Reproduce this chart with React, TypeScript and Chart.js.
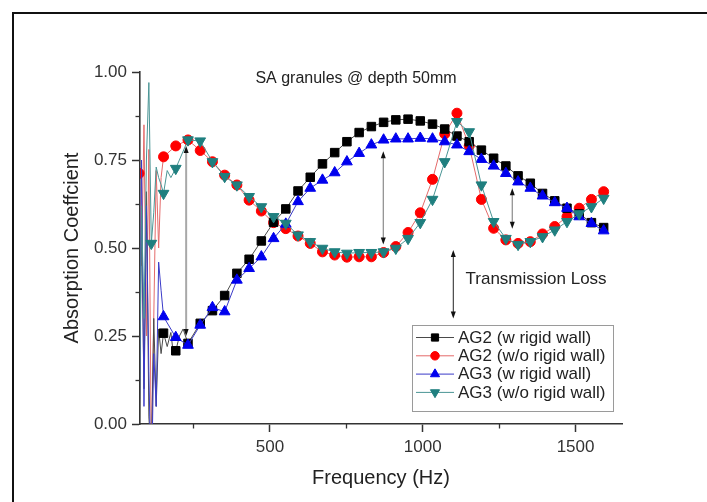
import React, { useEffect, useRef } from "react";
import { Chart, registerables } from "chart.js";

Chart.register(...registerables);

// Frequencies (Hz) at which the measurement markers are plotted
const frequencies = [72, 112, 152, 192, 232, 272, 312, 352, 392, 432, 472, 512, 552, 592, 632, 672, 712, 752, 792, 832, 872, 912, 952, 992, 1032, 1072, 1112, 1152, 1192, 1232, 1272, 1312, 1352, 1392, 1432, 1472, 1512, 1552, 1592];

const ag2WithWall = [-0.15, -0.1, 0.258, 0.208, 0.229, 0.286, 0.322, 0.365, 0.428, 0.468, 0.52, 0.573, 0.611, 0.662, 0.701, 0.739, 0.771, 0.802, 0.828, 0.845, 0.857, 0.864, 0.866, 0.861, 0.852, 0.838, 0.818, 0.802, 0.778, 0.755, 0.733, 0.705, 0.684, 0.655, 0.634, 0.613, 0.597, 0.572, 0.558];
const ag2WithoutWall = [0.712, -0.1, 0.759, 0.79, 0.807, 0.777, 0.745, 0.707, 0.679, 0.636, 0.605, 0.572, 0.555, 0.534, 0.513, 0.489, 0.48, 0.474, 0.475, 0.475, 0.487, 0.504, 0.544, 0.6, 0.695, 0.824, 0.883, 0.79, 0.638, 0.556, 0.523, 0.513, 0.518, 0.54, 0.561, 0.589, 0.613, 0.638, 0.66];
const ag3WithWall = [-0.1, -0.2, 0.305, 0.246, 0.224, 0.281, 0.331, 0.319, 0.409, 0.442, 0.475, 0.527, 0.568, 0.632, 0.67, 0.693, 0.714, 0.745, 0.769, 0.793, 0.807, 0.81, 0.81, 0.812, 0.81, 0.802, 0.793, 0.774, 0.752, 0.733, 0.712, 0.688, 0.67, 0.648, 0.629, 0.613, 0.589, 0.57, 0.549];
const ag3WithoutWall = [-0.05, 0.513, 0.655, 0.726, 0.807, 0.804, 0.745, 0.703, 0.679, 0.646, 0.617, 0.589, 0.57, 0.537, 0.518, 0.499, 0.489, 0.485, 0.487, 0.487, 0.489, 0.499, 0.527, 0.572, 0.638, 0.745, 0.859, 0.83, 0.679, 0.575, 0.527, 0.51, 0.518, 0.532, 0.551, 0.575, 0.597, 0.617, 0.641];

// Extra (unmarked) low-frequency trace samples: [frequency, value]
const ag2WithWallLow = [[80, 0.6], [88, 0.1], [96, 0.66], [104, 0.02], [120, 0.3], [128, 0.05], [136, 0.27], [144, 0.2], [164, 0.22], [176, 0.26], [184, 0.2], [204, 0.25], [216, 0.27]];
const ag2WithoutWallLow = [[80, 0.45], [88, 0.85], [96, 0.25], [104, 0.78], [120, 0.3], [128, 0.72], [136, 0.5], [144, 0.7]];
const ag3WithWallLow = [[80, 0.75], [88, 0.05], [96, 0.62], [104, 0.15], [120, 0.2], [128, 0.05], [136, 0.46], [144, 0.38]];
const ag3WithoutWallLow = [[80, 0.62], [88, 0.3], [96, 0.75], [104, 0.97], [120, 0.6], [128, 0.73], [136, 0.7], [144, 0.68], [164, 0.72], [176, 0.7]];

const seriesLabels = ["AG2 (w rigid wall)", "AG2 (w/o rigid wall)", "AG3 (w rigid wall)", "AG3 (w/o rigid wall)"];

const chartTitle = "SA granules @ depth 50mm";
const xAxisTitle = "Frequency (Hz)";
const yAxisTitle = "Absorption Coeffcient";
const annotationText = "Transmission Loss";

// Double-headed arrows between curves: frequency, upper value, lower value
const arrowFreqs = [226, 871, 1293];
const arrowTops = [0.79, 0.775, 0.67];
const arrowBottoms = [0.25, 0.51, 0.555];
// Transmission-loss key arrow
const tlArrowFreq = [1100];
const tlArrowTop = [0.494];
const tlArrowBottom = [0.3];
const tlTextFreq = [1140];
const tlTextValue = [0.41];

const xMajorStep = 500;
const yMajorStep = 0.25;

type Pt = { x: number; y: number; m: boolean };

function buildPoints(values: number[], extras: number[][]): Pt[] {
  const pts: Pt[] = frequencies.map((f, i) => ({ x: f, y: values[i], m: true }));
  extras.forEach(([f, v]) => pts.push({ x: f, y: v, m: false }));
  pts.sort((a, b) => a.x - b.x);
  return pts;
}

const FONT = 'Arial, "Liberation Sans", sans-serif';

const styles = [
  { fill: "#000000", line: "#4a4a4a", shape: "rect", r: 6, rot: 0, order: 2 },
  { fill: "#ff0000", line: "#e46a6a", shape: "circle", r: 5, rot: 0, order: 3 },
  { fill: "#0000ee", line: "#3a3ac8", shape: "triangle", r: 6.2, rot: 0, order: 1 },
  { fill: "#1f7f7f", line: "#4a9595", shape: "triangle", r: 6.2, rot: 180, order: 0 },
];

function drawMarker(ctx: CanvasRenderingContext2D, shape: string, x: number, y: number, r: number, rot: number, color: string) {
  ctx.save();
  ctx.fillStyle = color;
  ctx.strokeStyle = color;
  ctx.lineWidth = 1;
  ctx.beginPath();
  if (shape === "rect") {
    const s = Math.SQRT1_2 * r;
    ctx.rect(x - s, y - s, 2 * s, 2 * s);
  } else if (shape === "circle") {
    ctx.arc(x, y, r, 0, Math.PI * 2);
  } else {
    let rad = (rot * Math.PI) / 180;
    ctx.moveTo(x + Math.sin(rad) * r, y - Math.cos(rad) * r);
    rad += (2 * Math.PI) / 3;
    ctx.lineTo(x + Math.sin(rad) * r, y - Math.cos(rad) * r);
    rad += (2 * Math.PI) / 3;
    ctx.lineTo(x + Math.sin(rad) * r, y - Math.cos(rad) * r);
    ctx.closePath();
  }
  ctx.fill();
  ctx.stroke();
  ctx.restore();
}

function arrowHead(ctx: CanvasRenderingContext2D, x: number, y: number, dir: number) {
  ctx.beginPath();
  ctx.moveTo(x, y);
  ctx.lineTo(x - 2.5, y - dir * 7);
  ctx.lineTo(x + 2.5, y - dir * 7);
  ctx.closePath();
  ctx.fill();
}

function isMultiple(v: number, step: number) {
  const q = v / step;
  return Math.abs(q - Math.round(q)) < 1e-6;
}

const overlayPlugin = {
  id: "overlay",
  beforeDraw(chart: any) {
    const ctx = chart.ctx as CanvasRenderingContext2D;
    ctx.save();
    ctx.fillStyle = "#111";
    ctx.fillRect(12, 12, chart.width, 2);
    ctx.fillRect(12, 12, 2, chart.height);
    ctx.restore();
  },
  afterDraw(chart: any) {
    const ctx = chart.ctx as CanvasRenderingContext2D;
    const xs = chart.scales.x;
    const ys = chart.scales.y;
    const area = chart.chartArea;
    ctx.save();

    // minor ticks
    ctx.strokeStyle = "#333";
    ctx.lineWidth = 1.3;
    xs.ticks.forEach((t: any) => {
      if (!isMultiple(t.value, xMajorStep)) {
        const px = Math.round(xs.getPixelForValue(t.value)) + 0.5;
        ctx.beginPath();
        ctx.moveTo(px, area.bottom);
        ctx.lineTo(px, area.bottom + 4.5);
        ctx.stroke();
      }
    });
    ys.ticks.forEach((t: any) => {
      if (!isMultiple(t.value, yMajorStep)) {
        const py = Math.round(ys.getPixelForValue(t.value)) + 0.5;
        ctx.beginPath();
        ctx.moveTo(area.left, py);
        ctx.lineTo(area.left - 4.5, py);
        ctx.stroke();
      }
    });

    // title inside plot
    ctx.fillStyle = "#222";
    ctx.font = `16px ${FONT}`;
    ctx.textAlign = "center";
    ctx.textBaseline = "middle";
    ctx.fillText(chartTitle, 356, 79);

    // arrows between curves
    ctx.fillStyle = "#111";
    arrowFreqs.forEach((f, i) => {
      const px = xs.getPixelForValue(f);
      const y1 = ys.getPixelForValue(arrowTops[i]);
      const y2 = ys.getPixelForValue(arrowBottoms[i]);
      ctx.strokeStyle = i === 0 ? "#a8a8a8" : "#8a8a8a";
      ctx.lineWidth = i === 0 ? 2 : 1.2;
      ctx.beginPath();
      ctx.moveTo(px, y1 + 3);
      ctx.lineTo(px, y2 - 3);
      ctx.stroke();
      arrowHead(ctx, px, y1, -1);
      arrowHead(ctx, px, y2, 1);
    });
    tlArrowFreq.forEach((f, i) => {
      const px = xs.getPixelForValue(f);
      const y1 = ys.getPixelForValue(tlArrowTop[i]);
      const y2 = ys.getPixelForValue(tlArrowBottom[i]);
      ctx.strokeStyle = "#222";
      ctx.lineWidth = 1;
      ctx.beginPath();
      ctx.moveTo(px, y1 + 3);
      ctx.lineTo(px, y2 - 3);
      ctx.stroke();
      arrowHead(ctx, px, y1, -1);
      arrowHead(ctx, px, y2, 1);
      ctx.fillStyle = "#222";
      ctx.font = `17px ${FONT}`;
      ctx.textAlign = "left";
      ctx.textBaseline = "middle";
      ctx.fillText(annotationText, xs.getPixelForValue(tlTextFreq[i]), ys.getPixelForValue(tlTextValue[i]));
      ctx.fillStyle = "#111";
    });

    // legend
    const lx = 412;
    const ly = 325;
    const lw = 201;
    const lh = 86;
    ctx.fillStyle = "#fff";
    ctx.fillRect(lx, ly, lw, lh);
    ctx.strokeStyle = "#9a9a9a";
    ctx.lineWidth = 1;
    ctx.strokeRect(lx + 0.5, ly + 0.5, lw, lh);
    seriesLabels.forEach((label, i) => {
      const st = styles[i];
      const cy = ly + 12.5 + i * 18.3;
      ctx.strokeStyle = st.line;
      ctx.lineWidth = 1;
      ctx.beginPath();
      ctx.moveTo(lx + 4, cy);
      ctx.lineTo(lx + 42, cy);
      ctx.stroke();
      drawMarker(ctx, st.shape, lx + 23, cy, st.r * 0.85, st.rot, st.fill);
      ctx.fillStyle = "#222";
      ctx.font = `17px ${FONT}`;
      ctx.textAlign = "left";
      ctx.textBaseline = "middle";
      ctx.fillText(label, lx + 46, cy + 0.5);
    });
    ctx.restore();
  },
};

export default function App() {
  const canvasRef = useRef<HTMLCanvasElement | null>(null);

  useEffect(() => {
    if (!canvasRef.current) return;
    const seriesValues = [ag2WithWall, ag2WithoutWall, ag3WithWall, ag3WithoutWall];
    const seriesLow = [ag2WithWallLow, ag2WithoutWallLow, ag3WithWallLow, ag3WithoutWallLow];
    const datasets = seriesLabels.map((label, i) => {
      const st = styles[i];
      return {
        label,
        data: buildPoints(seriesValues[i], seriesLow[i]),
        borderColor: st.line,
        borderWidth: 1,
        backgroundColor: st.fill,
        pointBackgroundColor: st.fill,
        pointBorderColor: st.fill,
        pointBorderWidth: 1,
        pointStyle: st.shape,
        pointRotation: st.rot,
        pointRadius: (c: any) => (c.raw && c.raw.m ? st.r : 0),
        pointHoverRadius: (c: any) => (c.raw && c.raw.m ? st.r : 0),
        tension: 0,
        order: st.order,
      };
    });

    const chart = new Chart(canvasRef.current, {
      type: "line",
      data: { datasets: datasets as any },
      options: {
        animation: false,
        responsive: false,
        parsing: true,
        layout: { padding: { left: 0, top: 72, right: 85, bottom: 0 } },
        plugins: {
          legend: { display: false },
          tooltip: { enabled: false },
          title: { display: false },
        },
        scales: {
          x: {
            type: "linear",
            min: 75,
            max: 1652,
            afterFit: (s: any) => {
              s.height = 78;
            },
            ticks: {
              stepSize: 250,
              includeBounds: false,
              autoSkip: false,
              maxRotation: 0,
              padding: 5,
              color: "#333",
              font: { family: FONT, size: 17 },
              callback: (v: any) => (isMultiple(Number(v), xMajorStep) ? String(v) : ""),
            },
            grid: {
              drawOnChartArea: false,
              drawTicks: true,
              tickLength: 8,
              tickWidth: 1.5,
              tickColor: (c: any) => (c.tick && isMultiple(c.tick.value, xMajorStep) ? "#333" : "rgba(0,0,0,0)"),
            },
            border: { display: true, color: "#333", width: 1.6 },
            title: {
              display: true,
              text: xAxisTitle,
              color: "#222",
              font: { family: FONT, size: 20 },
              padding: { top: 0, bottom: 12 },
            },
          },
          y: {
            type: "linear",
            min: 0,
            max: 1,
            afterFit: (s: any) => {
              s.width = 140;
            },
            ticks: {
              stepSize: 0.125,
              includeBounds: false,
              autoSkip: false,
              padding: 5,
              color: "#333",
              font: { family: FONT, size: 17 },
              callback: (v: any) => (isMultiple(Number(v), yMajorStep) ? Number(v).toFixed(2) : ""),
            },
            grid: {
              drawOnChartArea: false,
              drawTicks: true,
              tickLength: 8,
              tickWidth: 1.5,
              tickColor: (c: any) => (c.tick && isMultiple(c.tick.value, yMajorStep) ? "#333" : "rgba(0,0,0,0)"),
            },
            border: { display: true, color: "#333", width: 1.6 },
            title: {
              display: true,
              text: yAxisTitle,
              color: "#222",
              font: { family: FONT, size: 20 },
              padding: { top: 60, bottom: 0 },
            },
          },
        },
      },
      plugins: [overlayPlugin],
    });
    return () => chart.destroy();
  }, []);

  return (
    <div style={{ position: "absolute", left: 0, top: 0, width: 707, height: 502, background: "#fff" }}>
      <canvas ref={canvasRef} width={707} height={502} style={{ display: "block", width: 707, height: 502 }} />
    </div>
  );
}
